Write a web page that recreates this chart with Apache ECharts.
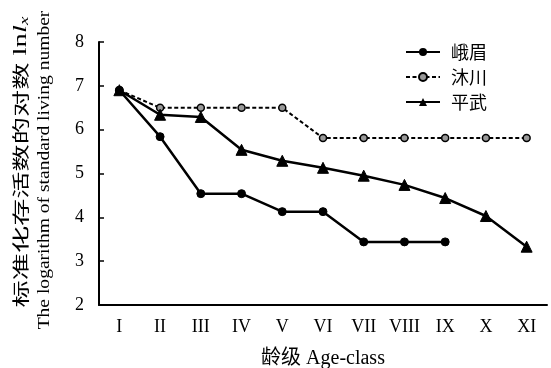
<!DOCTYPE html>
<html><head><meta charset="utf-8">
<script src="https://cdn.jsdelivr.net/npm/echarts@6/dist/echarts.min.js"></script>
<style>html,body{margin:0;padding:0;background:#fff}#c{width:551px;height:368px}</style>
</head><body><div id="c"></div>
<script>
const categories = ['I','II','III','IV','V','VI','VII','VIII','IX','X','XI'];
const emei = [6.9, 5.84, 4.54, 4.54, 4.13, 4.13, 3.44, 3.44, 3.44, null, null];
const muchuan = [6.9, 6.5, 6.5, 6.5, 6.5, 5.81, 5.81, 5.81, 5.81, 5.81, 5.81];
const pingwu = [6.9, 6.34, 6.29, 5.54, 5.29, 5.13, 4.95, 4.74, 4.44, 4.03, 3.33];
const seriesNames = ['峨眉', '沐川', '平武'];
const yTicks = {min: 2, max: 8, interval: 1};
const xTitle = '龄级 Age-class';
const yTitleCn = '标准化存活数的对数';
const yTitleEn = 'The logarithm of standard living number';

const serif = "'Liberation Serif', 'Times New Roman', 'Noto Sans CJK SC', serif";
const cjk = "'Noto Sans CJK SC', 'Liberation Serif', sans-serif";
const chart = echarts.init(document.getElementById('c'), null, {renderer: 'canvas'});
chart.setOption({
  animation: false,
  backgroundColor: '#fff',
  textStyle: {fontFamily: serif, color: '#000'},
  grid: {left: 99, right: 4, top: 42, bottom: 63, containLabel: false, outerBoundsMode: 'none'},
  legend: {
    left: 400, top: 38, orient: 'vertical', itemGap: 7, itemWidth: 34, itemHeight: 10, padding: 5,
    textStyle: {fontFamily: cjk, fontSize: 18, lineHeight: 18, color: '#000', padding: [0, 0, 0, 6]},
    data: seriesNames
  },
  xAxis: {
    type: 'category', data: categories, boundaryGap: true,
    name: xTitle, nameLocation: 'middle', nameGap: 44,
    nameTextStyle: {fontFamily: serif, fontSize: 20, color: '#000'},
    axisLine: {lineStyle: {color: '#000', width: 2}},
    axisTick: {inside: true, length: 5, lineStyle: {color: '#000', width: 1.5}, alignWithLabel: false},
    axisLabel: {fontFamily: serif, fontSize: 18, color: '#000', margin: 13},
    splitLine: {show: false}
  },
  yAxis: {
    type: 'value', min: yTicks.min, max: yTicks.max, interval: yTicks.interval,
    axisLine: {show: true, lineStyle: {color: '#000', width: 2}},
    axisTick: {show: true, inside: true, length: 5, lineStyle: {color: '#000', width: 1.5}},
    axisLabel: {fontFamily: serif, fontSize: 18, color: '#000', margin: 15},
    splitLine: {show: false}
  },
  graphic: [
    {type: 'text', x: 21, y: 162, rotation: Math.PI / 2, scaleX: 1.6,
     style: {
       text: '{a|' + yTitleCn + '}{b| ln}{i|l}{s|x}',
       align: 'center', verticalAlign: 'middle', textAlign: 'center', textVerticalAlign: 'middle',
       rich: {
         a: {fontFamily: cjk, fontSize: 17, fill: '#000', lineHeight: 20},
         b: {fontFamily: serif, fontSize: 18, fill: '#000', lineHeight: 20},
         i: {fontFamily: serif, fontStyle: 'italic', fontSize: 18, fill: '#000', lineHeight: 20},
         s: {fontFamily: serif, fontStyle: 'italic', fontSize: 12, fill: '#000', lineHeight: 20, padding: [8, 0, 0, 0]}
       }
     }},
    {type: 'text', x: 45, y: 170, rotation: Math.PI / 2, scaleX: 1.15,
     style: {
       text: yTitleEn, fill: '#000',
       font: "17px 'Liberation Serif', serif",
       align: 'center', verticalAlign: 'middle', textAlign: 'center', textVerticalAlign: 'middle'
     }}
  ],
  series: [
    {name: seriesNames[0], type: 'line', data: emei, symbol: 'circle', symbolSize: 8,
     lineStyle: {color: '#000', width: 2.5}, itemStyle: {color: '#000', borderColor: '#000'}, z: 3},
    {name: seriesNames[1], type: 'line', data: muchuan, symbol: 'circle', symbolSize: 7,
     lineStyle: {color: '#000', width: 2, type: [4, 2.5]}, itemStyle: {color: '#999', borderColor: '#000', borderWidth: 1.5}, z: 2},
    {name: seriesNames[2], type: 'line', data: pingwu, symbol: 'triangle', symbolSize: 11,
     lineStyle: {color: '#000', width: 2.5}, itemStyle: {color: '#000', borderColor: '#000'}, z: 4}
  ]
});
</script></body></html>
